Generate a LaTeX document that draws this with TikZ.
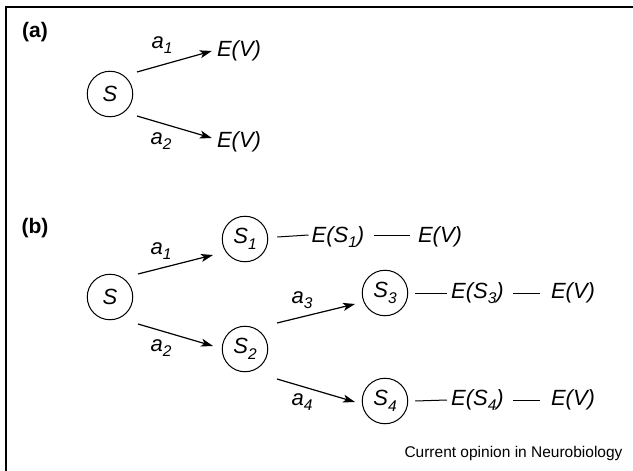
\documentclass[tikz,border=0pt]{standalone}
\usepackage{fontspec}
\setmainfont{Liberation Sans}
\usetikzlibrary{arrows.meta,calc}
\newcommand\sbs[1]{\raisebox{-0.25em}{\fontsize{15.5}{15.5}\selectfont #1}}
\begin{document}
\begin{tikzpicture}[x=1pt,y=-1pt,
  st/.style={circle,draw,line width=1pt,minimum size=45.5pt,inner sep=0pt,font=\fontsize{22}{22}\selectfont\itshape},
  ev/.style={inner sep=0pt,font=\fontsize{22}{22}\selectfont\itshape},
  lab/.style={inner sep=0pt,font=\fontsize{22}{22}\selectfont\itshape},
  arr/.style={line width=1.2pt,-{Stealth[length=12pt,width=8pt,inset=3pt]}},
  ln/.style={line width=1pt},
  panel/.style={inner sep=0pt,font=\fontsize{21}{21}\selectfont\bfseries},
  credit/.style={inner sep=0pt,font=\fontsize{15.5}{15.5}\selectfont}]
\useasboundingbox (0,0) rectangle (633,471);
% frame (top and left edges)
\draw[line width=2pt] (633,7) -- (6,7) -- (6,471);

% ---------- panel (a)
\node[panel] (pa) at (35,32) {(a)};
\node[st] (Sa) at (110,94) {S};
\node[ev] (Ea1) at (239,51) {E(V)};
\node[ev] (Ea2) at (239,142) {E(V)};
\draw[arr] ($(Sa)+(27,-22)$) -- ($(Ea1.west)+(-5,0)$);
\draw[arr] ($(Sa)+(27,22)$) -- ($(Ea2.west)+(-5,-4)$);
\node[lab] (la1) at (162,45) {a\sbs{1}};
\node[lab] (la2) at (161,141) {a\sbs{2}};

% ---------- panel (b)
\node[panel] (pb) at (35,228) {(b)};
\node[st] (Sb) at (110,297) {S};
\node[st] (S1) at (245,239) {S\sbs{1}};
\node[st] (S2) at (245,349) {S\sbs{2}};
\node[st] (S3) at (385,293) {S\sbs{3}};
\node[st] (S4) at (385,401) {S\sbs{4}};

\draw[arr] ($(Sb)+(28,-23)$) -- ($(S1)+(-32,16)$);
\draw[arr] ($(Sb)+(28,27)$) -- ($(S2)+(-32,-3)$);
\draw[arr] ($(S2)+(32,-26)$) -- ($(S3)+(-30,11)$);
\draw[arr] ($(S2)+(32,30)$) -- ($(S4)+(-30,1)$);

\node[lab] (lb1) at (161,251) {a\sbs{1}};
\node[lab] (lb2) at (161,348) {a\sbs{2}};
\node[lab] (lb3) at (302,300) {a\sbs{3}};
\node[lab] (lb4) at (302,402) {a\sbs{4}};

% value chains
\node[ev] (ES1) at (338,237) {E(S\sbs{1})};
\node[ev] (EV1) at (440,237) {E(V)};
\node[ev] (ES3) at (477.5,293) {E(S\sbs{3})};
\node[ev] (EV3) at (573,293) {E(V)};
\node[ev] (ES4) at (477.5,400) {E(S\sbs{4})};
\node[ev] (EV4) at (573,400) {E(V)};

\draw[ln] ($(S1.east)+(9,-2)$) -- ($(ES1.west)+(-3,-2)$);
\draw[ln] ($(ES1.east)+(9,-2)$) -- ($(EV1.west)+(-8,-2)$);
\draw[ln] ($(S3.east)+(7,0)$) -- ($(ES3.west)+(-4,0)$);
\draw[ln] ($(ES3.east)+(9,0)$) -- ($(EV3.west)+(-11,0)$);
\draw[ln] ($(S4.east)+(7,0)$) -- ($(ES4.west)+(-4,0)$);
\draw[ln] ($(ES4.east)+(9,0)$) -- ($(EV4.west)+(-11,0)$);

\node[credit] (cr) at (513.5,453) {Current opinion in Neurobiology};
\end{tikzpicture}
\end{document}
